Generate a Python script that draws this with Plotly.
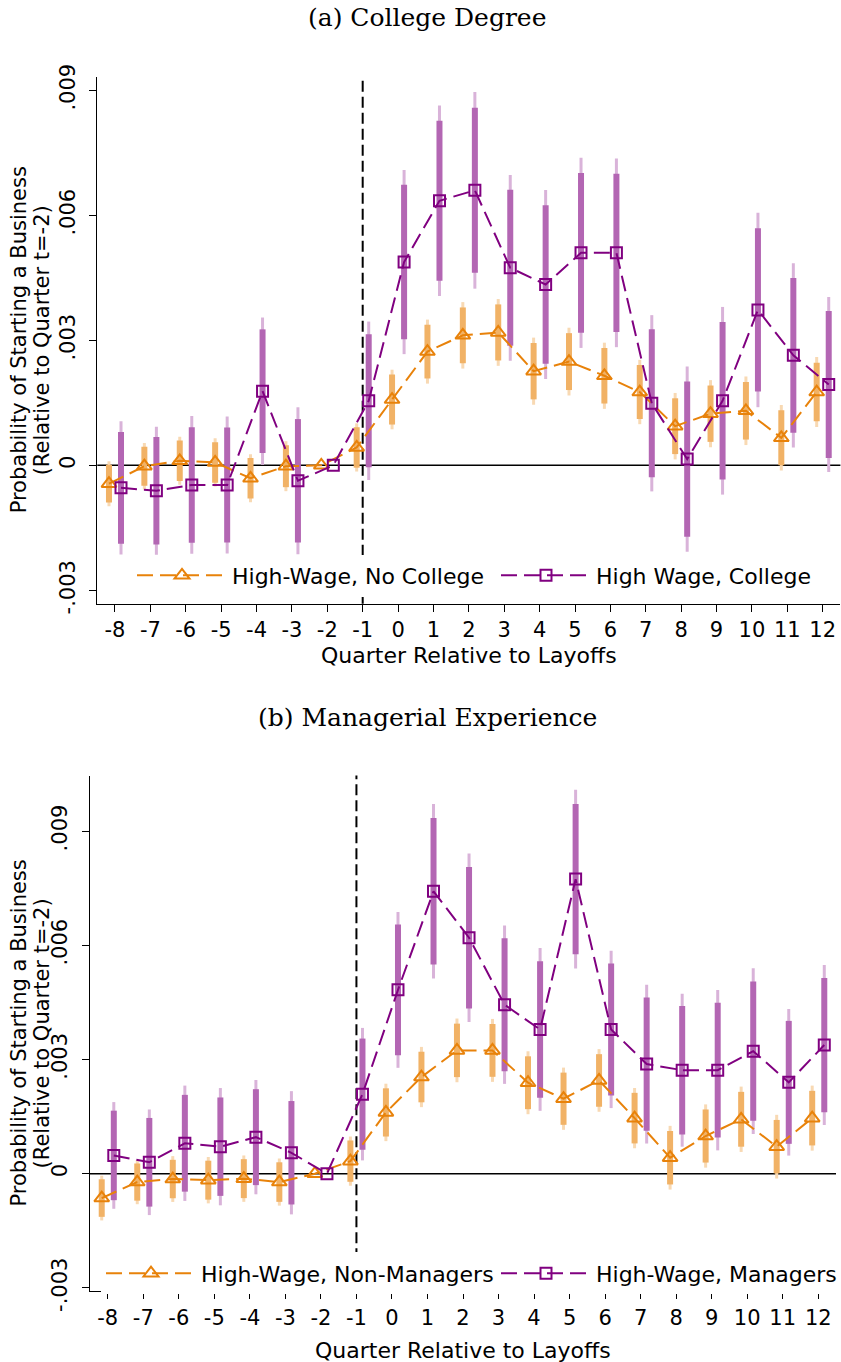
import plotly.graph_objects as go

# ---------------- data ----------------
quarters = list(range(-8, 13))
x_tick_labels = [str(q) for q in quarters]
y_tick_vals = [-0.003, 0.0, 0.003, 0.006, 0.009]
y_tick_labels = ["-.003", "0", ".003", ".006", ".009"]

# Panel (a) College Degree
a_nocollege_est = [-0.00044, -0.00002, 0.00011, 0.00007, -0.00031, -0.00002, 0.0, 0.00043,
                   0.00158, 0.00273, 0.00312, 0.00319, 0.00226, 0.00249, 0.00215, 0.00176,
                   0.00094, 0.00124, 0.00131, 0.00066, 0.00176]
a_nocollege_se = [0.000276, 0.000285, 0.000295, 0.000295, 0.000295, 0.000306, 0.0, 0.000295,
                  0.000365, 0.000392, 0.000407, 0.000409, 0.000411, 0.000415, 0.000405, 0.000394,
                  0.000407, 0.000411, 0.000420, 0.000401, 0.000428]
a_college_est = [-0.00054, -0.00061, -0.00047, -0.00047, 0.00178, -0.00037, 0.0, 0.00155,
                 0.00488, 0.00635, 0.00660, 0.00474, 0.00434, 0.00510, 0.00510, 0.00149,
                 0.00015, 0.00155, 0.00373, 0.00264, 0.00194]
a_college_se = [0.000816, 0.000784, 0.000843, 0.000839, 0.000902, 0.000900, 0.0, 0.000970,
                0.001128, 0.001166, 0.001204, 0.001138, 0.001157, 0.001164, 0.001155, 0.001079,
                0.001134, 0.001149, 0.001191, 0.001128, 0.001071]

# Panel (b) Managerial Experience
b_nonmgr_est = [-0.00064, -0.00022, -0.00014, -0.00017, -0.00013, -0.00022, 0.0, 0.00033,
                0.00161, 0.00254, 0.00324, 0.00324, 0.00239, 0.00197, 0.00245, 0.00146,
                0.00042, 0.00099, 0.00143, 0.00071, 0.00146]
b_nonmgr_se = [0.000300, 0.000297, 0.000307, 0.000311, 0.000311, 0.000316, 0.0, 0.000330,
               0.000385, 0.000404, 0.000427, 0.000422, 0.000422, 0.000417, 0.000420, 0.000404,
               0.000427, 0.000424, 0.000438, 0.000427, 0.000436]
b_mgr_est = [0.00048, 0.00030, 0.00080, 0.00071, 0.00096, 0.00055, 0.0, 0.00209,
             0.00483, 0.00742, 0.00620, 0.00444, 0.00379, 0.00774, 0.00379, 0.00288,
             0.00272, 0.00272, 0.00322, 0.00240, 0.00338]
b_mgr_se = [0.000715, 0.000708, 0.000773, 0.000786, 0.000766, 0.000826, 0.0, 0.000888,
            0.001045, 0.001169, 0.001130, 0.001061, 0.001091, 0.001199, 0.001054, 0.001065,
            0.001026, 0.001075, 0.001111, 0.000982, 0.001072]

series_names = {
    "a1": "High-Wage, No College", "a2": "High Wage, College",
    "b1": "High-Wage, Non-Managers", "b2": "High-Wage, Managers",
}
panel_titles = ["(a) College Degree", "(b) Managerial Experience"]
x_title = "Quarter Relative to Layoffs"
y_title_1 = "Probability of Starting a Business"
y_title_2 = "(Relative to Quarter t=-2)"

# ---------------- style ----------------
W, H = 841, 1362
Z90, Z95 = 1.645, 1.96
OFF = 0.17
ORANGE = "#E8820A"
ORANGE_90 = "#F1B266"
ORANGE_95 = "#F8D9B3"
PURPLE = "#800080"
PURPLE_90 = "#B366B3"
PURPLE_95 = "#D9B3D9"
SANS = "DejaVu Sans"
SERIF = "DejaVu Serif"

def px_x(p):
    return p / W

def px_y(p):
    return 1 - p / H

fig = go.Figure()

def add_ci(est, se, shift, c90, c95, xa, ya):
    xs = [q + shift for q in quarters]
    fig.add_trace(go.Scatter(
        x=xs, y=est, mode="markers", marker=dict(size=2, opacity=0),
        error_y=dict(type="data", array=[Z95 * s for s in se], symmetric=True,
                     thickness=3, width=0, color=c95),
        showlegend=False, hoverinfo="skip", xaxis=xa, yaxis=ya))
    fig.add_trace(go.Scatter(
        x=xs, y=est, mode="markers", marker=dict(size=2, opacity=0),
        error_y=dict(type="data", array=[Z90 * s for s in se], symmetric=True,
                     thickness=6, width=0, color=c90),
        showlegend=False, hoverinfo="skip", xaxis=xa, yaxis=ya))

def add_line(est, shift, name, color, symbol, msize, xa, ya, legend):
    xs = [q + shift for q in quarters]
    fig.add_trace(go.Scatter(
        x=xs, y=est, mode="lines+markers", name=name,
        line=dict(color=color, width=2, dash="16px,7px"),
        marker=dict(symbol=symbol, size=msize, color=color,
                    line=dict(color=color, width=2)),
        xaxis=xa, yaxis=ya, legend=legend))

panels = [
    ("x", "y", "legend", a_nocollege_est, a_nocollege_se, a_college_est, a_college_se,
     series_names["a1"], series_names["a2"]),
    ("x2", "y2", "legend2", b_nonmgr_est, b_nonmgr_se, b_mgr_est, b_mgr_se,
     series_names["b1"], series_names["b2"]),
]
for xa, ya, lg, e1, s1, e2, s2, n1, n2 in panels:
    add_ci(e1, s1, -OFF, ORANGE_90, ORANGE_95, xa, ya)
    add_ci(e2, s2, OFF, PURPLE_90, PURPLE_95, xa, ya)
    add_line(e1, -OFF, n1, ORANGE, "triangle-up-open", 13, xa, ya, lg)
    add_line(e2, OFF, n2, PURPLE, "square-open", 11, xa, ya, lg)

# ---------------- axes ----------------
# geometry in pixels: (left, right, top, bottom)
geo_top = (97.3, 840.4, 77.0, 603.7)
geo_bot = (90.0, 836.0, 775.6, 1291.3)

def xaxis_cfg(geo, anchor):
    return dict(range=[-8.5, 12.5], domain=[px_x(geo[0]), px_x(geo[1])], anchor=anchor,
                tickmode="array", tickvals=quarters, ticktext=x_tick_labels,
                ticks="outside", ticklen=7, tickwidth=1.3, tickcolor="black",
                showline=True, linecolor="black", linewidth=1.3,
                showgrid=False, zeroline=False, automargin=False,
                tickfont=dict(family=SANS, size=21, color="black"))

def yaxis_cfg(geo, anchor, yr):
    return dict(range=yr, domain=[px_y(geo[3]), px_y(geo[2])], anchor=anchor,
                tickmode="array", tickvals=y_tick_vals, ticktext=y_tick_labels,
                tickangle=-90, ticklabelstandoff=6,
                ticks="outside", ticklen=7, tickwidth=1.3, tickcolor="black",
                showline=True, linecolor="black", linewidth=1.3,
                showgrid=False, zeroline=False, automargin=False,
                tickfont=dict(family=SANS, size=21, color="black"))

fig.update_layout(
    xaxis=xaxis_cfg(geo_top, "y"),
    yaxis=yaxis_cfg(geo_top, "x", [-0.00332, 0.00932]),
    xaxis2=xaxis_cfg(geo_bot, "y2"),
    yaxis2=yaxis_cfg(geo_bot, "x2", [-0.00309, 0.01046]),
)

# reference lines
shapes = []
for xa, ya in [("x", "y"), ("x2", "y2")]:
    shapes.append(dict(type="line", xref=xa + " domain", yref=ya, x0=0, x1=1, y0=0, y1=0,
                       line=dict(color="black", width=1.5), layer="below"))
    shapes.append(dict(type="line", xref=xa, yref=ya + " domain", x0=-1, x1=-1, y0=0, y1=1,
                       line=dict(color="black", width=2, dash="11px,5px"), layer="below"))
fig.update_layout(shapes=shapes)

# annotations: titles
ann = []
for title, ty in [(panel_titles[0], 18), (panel_titles[1], 717)]:
    ann.append(dict(text=title, x=px_x(427), y=px_y(ty), xref="paper", yref="paper",
                    showarrow=False, xanchor="center", yanchor="middle",
                    font=dict(family=SERIF, size=25, color="black")))
for geo, xt_y in [(geo_top, 655), (geo_bot, 1350)]:
    cx = (geo[0] + geo[1]) / 2
    cy = (geo[2] + geo[3]) / 2
    ann.append(dict(text=x_title, x=px_x(cx), y=px_y(xt_y), xref="paper", yref="paper",
                    showarrow=False, xanchor="center", yanchor="middle",
                    font=dict(family=SANS, size=22, color="black")))
    ann.append(dict(text=y_title_1, x=px_x(19), y=px_y(cy), xref="paper", yref="paper",
                    showarrow=False, xanchor="center", yanchor="middle", textangle=-90,
                    font=dict(family=SANS, size=21, color="black")))
    ann.append(dict(text=y_title_2, x=px_x(42), y=px_y(cy), xref="paper", yref="paper",
                    showarrow=False, xanchor="center", yanchor="middle", textangle=-90,
                    font=dict(family=SANS, size=21, color="black")))
fig.update_layout(annotations=ann)

legend_common = dict(orientation="h", xanchor="left", yanchor="middle",
                     bgcolor="white", borderwidth=0, itemwidth=90,
                     entrywidthmode="pixels",
                     font=dict(family=SANS, size=22, color="black"),
                     itemclick=False, itemdoubleclick=False)
fig.update_layout(
    legend=dict(x=px_x(132), y=px_y(575.5), entrywidth=259, **legend_common),
    legend2=dict(x=px_x(101), y=px_y(1273.4), entrywidth=290, **legend_common),
)

fig.update_layout(width=W, height=H, margin=dict(l=0, r=0, t=0, b=0, pad=0, autoexpand=False),
                  plot_bgcolor="white", paper_bgcolor="white", showlegend=True)

fig.write_html("out.html", config={"displayModeBar": False},
               post_script="document.body.style.margin='0';document.body.style.padding='0';"
                           "document.body.style.overflow='hidden';")
